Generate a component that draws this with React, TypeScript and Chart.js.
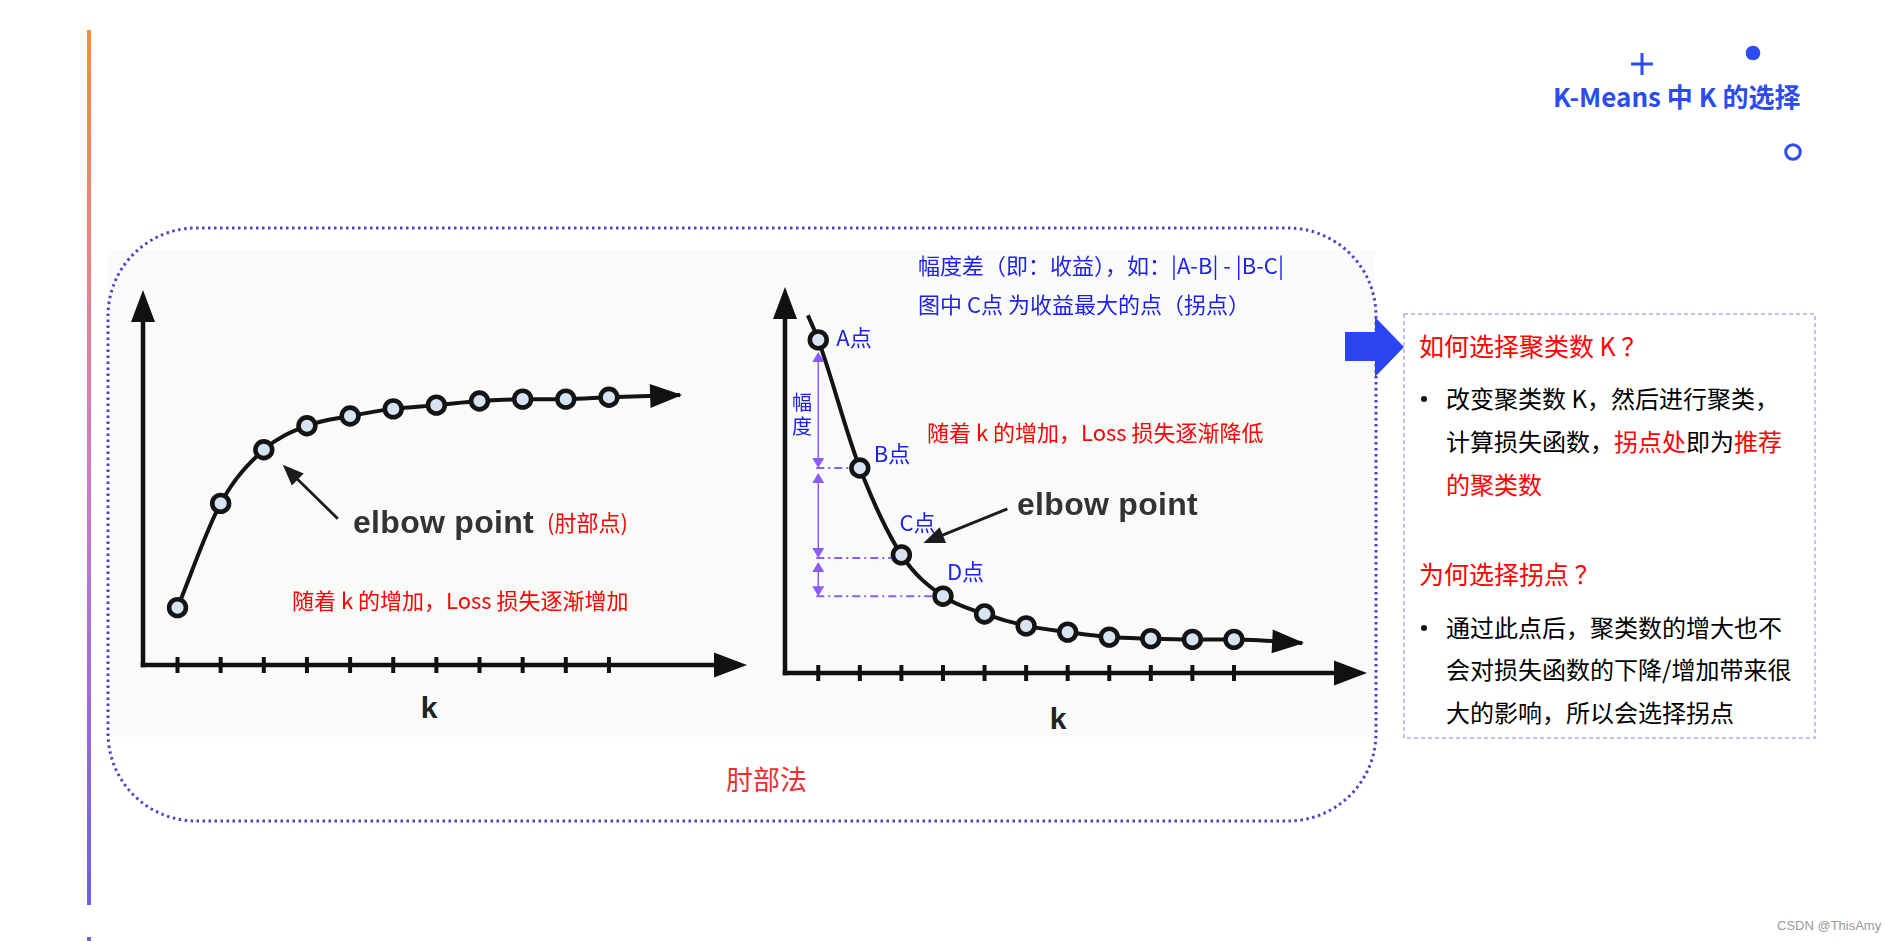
import React, { useEffect, useRef } from "react";
import { Chart, registerables } from "chart.js";

Chart.register(...registerables);

// ---------- data ----------
const kValues = [1, 2, 3, 4, 5, 6, 7, 8, 9, 10, 11];
const lossIncreasing = [15.3, 43.1, 57.4, 63.8, 66.4, 68.3, 69.3, 70.4, 70.9, 70.9, 71.4];
const lossDecreasing = [86.3, 53.1, 30.6, 19.9, 15.3, 12.2, 10.6, 9.3, 8.9, 8.7, 8.7];
const increasingTail = { k: 12.65, loss: 72.0 };
const decreasingHead = { k: 0.75, loss: 92.7 };
const decreasingTail = { k: 12.64, loss: 7.8 };
const pointNames = ["A点", "B点", "C点", "D点"];
const axisLabel = "k";

const CJK = '"Noto Sans CJK SC", "Noto Sans", sans-serif';
const LATIN = '"Liberation Sans", Arial, sans-serif';
const BLUE = "#2020ee";
const RED = "#ff0000";
const PURPLE = "#8b5cf6";

type Vec = [number, number];

function arrowHead(ctx: CanvasRenderingContext2D, tx: number, ty: number, ux: number, uy: number, len: number, half: number) {
  const bx = tx - ux * len;
  const by = ty - uy * len;
  ctx.beginPath();
  ctx.moveTo(tx, ty);
  ctx.lineTo(bx - uy * half, by + ux * half);
  ctx.lineTo(bx + uy * half, by - ux * half);
  ctx.closePath();
  ctx.fill();
}

interface DecorCfg {
  offset: number;
  elbow: { index: number; tip: Vec; tail: Vec };
  labels?: Vec[];
  span?: boolean;
}

function makeDecor(cfg: DecorCfg) {
  return {
    id: "decor",
    beforeDatasetsDraw(chart: any) {
      const { ctx, chartArea: a, scales } = chart;
      const x = scales.x;
      ctx.save();
      ctx.strokeStyle = "#111";
      ctx.fillStyle = "#111";
      ctx.lineWidth = 4.5;
      ctx.lineCap = "butt";
      // y axis
      ctx.beginPath();
      ctx.moveTo(a.left, a.bottom + 2.25);
      ctx.lineTo(a.left, a.top + 28);
      ctx.stroke();
      arrowHead(ctx, a.left, a.top, 0, -1, 32, 12);
      // x axis
      ctx.beginPath();
      ctx.moveTo(a.left - 2.25, a.bottom);
      ctx.lineTo(a.right - 28, a.bottom);
      ctx.stroke();
      arrowHead(ctx, a.right, a.bottom, 1, 0, 33, 12.5);
      // ticks
      ctx.lineWidth = 4;
      for (const k of kValues) {
        const px = x.getPixelForValue(k);
        ctx.beginPath();
        ctx.moveTo(px, a.bottom - 8);
        ctx.lineTo(px, a.bottom + 8);
        ctx.stroke();
      }
      ctx.restore();
    },
    afterDatasetsDraw(chart: any) {
      const { ctx } = chart;
      const pts = chart.getDatasetMeta(0).data;
      const n = pts.length;
      ctx.save();
      // arrow at end of the curve
      const last = pts[n - 1];
      const prev = pts[n - 2];
      let ux = last.x - prev.x;
      let uy = last.y - prev.y;
      let d = Math.hypot(ux, uy);
      ux /= d;
      uy /= d;
      ctx.fillStyle = "#111";
      arrowHead(ctx, last.x + ux * 2, last.y + uy * 2, ux, uy, 32, 12);

      // elbow annotation arrow
      const P = pts[cfg.offset + cfg.elbow.index];
      const tipX = P.x + cfg.elbow.tip[0];
      const tipY = P.y + cfg.elbow.tip[1];
      const tailX = P.x + cfg.elbow.tail[0];
      const tailY = P.y + cfg.elbow.tail[1];
      let vx = tipX - tailX;
      let vy = tipY - tailY;
      d = Math.hypot(vx, vy);
      vx /= d;
      vy /= d;
      ctx.strokeStyle = "#1c1c1c";
      ctx.fillStyle = "#1c1c1c";
      ctx.lineWidth = 2.8;
      ctx.beginPath();
      ctx.moveTo(tailX, tailY);
      ctx.lineTo(tipX - vx * 16, tipY - vy * 16);
      ctx.stroke();
      arrowHead(ctx, tipX, tipY, vx, vy, 21, 8.5);

      // amplitude spans (A-B, B-C, C-D)
      if (cfg.span) {
        const A = pts[cfg.offset + 0];
        const B = pts[cfg.offset + 1];
        const C = pts[cfg.offset + 2];
        const D = pts[cfg.offset + 3];
        const xA = A.x;
        ctx.strokeStyle = PURPLE;
        ctx.fillStyle = PURPLE;
        const segs: [number, number][] = [
          [A.y + 12, B.y],
          [B.y + 5, C.y + 3],
          [C.y + 7, D.y],
        ];
        for (const [y0, y1] of segs) {
          ctx.lineWidth = 1.5;
          ctx.setLineDash([]);
          ctx.beginPath();
          ctx.moveTo(xA, y0 + 4);
          ctx.lineTo(xA, y1 - 4);
          ctx.stroke();
          arrowHead(ctx, xA, y0, 0, -1, 10, 6);
          arrowHead(ctx, xA, y1, 0, 1, 10, 6);
        }
        ctx.lineWidth = 2;
        ctx.setLineDash([8, 4, 2, 4]);
        for (const [P2, dy] of [[B, 0], [C, 3], [D, 0]] as [any, number][]) {
          ctx.beginPath();
          ctx.moveTo(xA - 2, P2.y + dy);
          ctx.lineTo(P2.x - 10, P2.y + dy);
          ctx.stroke();
        }
        ctx.setLineDash([]);
      }

      // point name labels
      if (cfg.labels) {
        ctx.fillStyle = BLUE;
        ctx.font = `22px ${CJK}`;
        ctx.textBaseline = "middle";
        ctx.textAlign = "left";
        cfg.labels.forEach((off, i) => {
          const p = pts[cfg.offset + i];
          ctx.fillText(pointNames[i], p.x + off[0], p.y + off[1]);
        });
      }
      ctx.restore();
    },
  };
}

function buildConfig(points: { x: number; y: number }[], radii: number[], decor: any, xMax: number) {
  return {
    type: "line",
    data: {
      datasets: [
        {
          data: points,
          borderColor: "#141414",
          borderWidth: 4,
          pointRadius: radii,
          pointHoverRadius: radii,
          pointBackgroundColor: "#d6e4f2",
          pointBorderColor: "#141414",
          pointBorderWidth: 4.6,
          cubicInterpolationMode: "monotone",
          fill: false,
          clip: false,
        },
      ],
    },
    options: {
      animation: false,
      responsive: false,
      maintainAspectRatio: false,
      events: [],
      layout: { padding: { left: 20, top: 10, right: 10, bottom: 20 } },
      scales: {
        x: { type: "linear", min: 0.2, max: xMax, display: false },
        y: { type: "linear", min: 0, max: 100, display: false },
      },
      plugins: { legend: { display: false }, tooltip: { enabled: false } },
    },
    plugins: [decor],
  } as any;
}

function Txt(props: {
  x: number;
  cy: number;
  size: number;
  color?: string;
  bold?: boolean;
  family?: string;
  factor?: number;
  spacing?: number;
  children: React.ReactNode;
}) {
  const f = props.factor ?? 0.55;
  return (
    <div
      style={{
        position: "absolute",
        left: props.x,
        top: props.cy - props.size * f,
        fontSize: props.size,
        lineHeight: 1,
        color: props.color ?? "#000",
        fontWeight: props.bold ? 700 : 400,
        fontFamily: props.family ?? CJK,
        whiteSpace: "nowrap",
        letterSpacing: props.spacing ?? 0,
      }}
    >
      {props.children}
    </div>
  );
}

function Bullet(props: { cy: number }) {
  return (
    <div
      style={{
        position: "absolute",
        left: 1421,
        top: props.cy - 3,
        width: 6,
        height: 6,
        borderRadius: 3,
        background: "#111",
      }}
    />
  );
}

export default function App() {
  const leftRef = useRef<HTMLCanvasElement>(null);
  const rightRef = useRef<HTMLCanvasElement>(null);

  useEffect(() => {
    const leftPts = kValues.map((k, i) => ({ x: k, y: lossIncreasing[i] }));
    leftPts.push({ x: increasingTail.k, y: increasingTail.loss });
    const leftRadii = kValues.map(() => 8.4).concat([0]);
    const c1 = new Chart(
      leftRef.current!,
      buildConfig(
        leftPts,
        leftRadii,
        makeDecor({ offset: 0, elbow: { index: 2, tip: [19, 15], tail: [74, 69] } }),
        14.2
      )
    );

    const rightPts = [{ x: decreasingHead.k, y: decreasingHead.loss }].concat(
      kValues.map((k, i) => ({ x: k, y: lossDecreasing[i] }))
    );
    rightPts.push({ x: decreasingTail.k, y: decreasingTail.loss });
    const rightRadii = [0].concat(kValues.map(() => 8.4)).concat([0]);
    const c2 = new Chart(
      rightRef.current!,
      buildConfig(
        rightPts,
        rightRadii,
        makeDecor({
          offset: 1,
          elbow: { index: 2, tip: [22, -12], tail: [106, -46] },
          labels: [
            [18, -2],
            [14, -14],
            [-2, -32],
            [4, -25],
          ],
          span: true,
        }),
        14.2
      )
    );
    return () => {
      c1.destroy();
      c2.destroy();
    };
  }, []);

  const lines = [399, 442, 485, 628, 670, 713];

  return (
    <div
      style={{
        position: "absolute",
        left: 0,
        top: 0,
        width: 1885,
        height: 941,
        background: "#fff",
        overflow: "hidden",
      }}
    >
      <svg width={1885} height={941} style={{ position: "absolute", left: 0, top: 0 }}>
        <defs>
          <linearGradient id="bar" x1="0" y1="0" x2="0" y2="1">
            <stop offset="0" stopColor="#ff8a3d" />
            <stop offset="0.5" stopColor="#d27cc4" />
            <stop offset="1" stopColor="#6b5cf5" />
          </linearGradient>
        </defs>
        <rect x={87} y={30} width={4} height={875} fill="url(#bar)" />
        <rect x={87} y={937} width={4} height={4} fill="#7060f0" />
        <rect x={108} y={250} width={1267} height={487} fill="#f8fbf8" />
        <rect
          x={108}
          y={228}
          width={1268}
          height={593}
          rx={88}
          ry={88}
          fill="none"
          stroke="#5b3cc8"
          strokeWidth={3}
          strokeDasharray="2.5 3.5"
        />
        <rect
          x={1404}
          y={314}
          width={411}
          height={424}
          fill="none"
          stroke="#b4aaf0"
          strokeWidth={1.5}
          strokeDasharray="4 3"
        />
        <polygon
          points="1345,332 1375,332 1375,317 1404,347 1375,377 1375,361 1345,361"
          fill="#2b45f3"
        />
        <line x1={1631} y1={64} x2={1653} y2={64} stroke="#2c4bf0" strokeWidth={3} />
        <line x1={1642} y1={53} x2={1642} y2={75} stroke="#2c4bf0" strokeWidth={3} />
        <circle cx={1753} cy={53} r={7.3} fill="#2c4bf0" />
        <circle cx={1793} cy={152} r={7.3} fill="none" stroke="#2c4bf0" strokeWidth={3} />
      </svg>

      <canvas
        ref={leftRef}
        width={637}
        height={408}
        style={{ position: "absolute", left: 123, top: 277, width: 637, height: 408 }}
      />
      <canvas
        ref={rightRef}
        width={612}
        height={416}
        style={{ position: "absolute", left: 765, top: 277, width: 612, height: 416 }}
      />

      {/* title */}
      <Txt x={1553} cy={97} size={26} color="#2c4bf0" bold>
        K-Means 中 K 的选择
      </Txt>

      {/* left chart texts */}
      <Txt x={353} cy={522} size={32} color="#333" bold family={LATIN} factor={0.5} spacing={0.3}>
        elbow point
      </Txt>
      <Txt x={547} cy={522} size={22} color={RED}>
        (肘部点)
      </Txt>
      <Txt x={292} cy={600} size={22} color={RED}>
        随着 k 的增加，Loss 损失逐渐增加
      </Txt>
      <div
        style={{
          position: "absolute",
          left: 409,
          width: 40,
          textAlign: "center",
          top: 708 - 15,
          fontSize: 30,
          lineHeight: "30px",
          fontWeight: 700,
          fontFamily: LATIN,
          color: "#222",
        }}
      >
        {axisLabel}
      </div>

      {/* right chart texts */}
      <Txt x={918} cy={265} size={22} color={BLUE}>
        幅度差（即：收益），如：|A-B| - |B-C|
      </Txt>
      <Txt x={918} cy={304} size={22} color={BLUE}>
        图中 C点 为收益最大的点（拐点）
      </Txt>
      <Txt x={792} cy={403} size={20} color={BLUE}>
        幅
      </Txt>
      <Txt x={792} cy={427} size={20} color={BLUE}>
        度
      </Txt>
      <Txt x={927} cy={432} size={22} color={RED}>
        随着 k 的增加，Loss 损失逐渐降低
      </Txt>
      <Txt x={1017} cy={504} size={32} color="#333" bold family={LATIN} factor={0.5} spacing={0.3}>
        elbow point
      </Txt>
      <div
        style={{
          position: "absolute",
          left: 1038,
          width: 40,
          textAlign: "center",
          top: 719 - 15,
          fontSize: 30,
          lineHeight: "30px",
          fontWeight: 700,
          fontFamily: LATIN,
          color: "#222",
        }}
      >
        {axisLabel}
      </div>

      <Txt x={726} cy={780} size={27} color="#e83030">
        肘部法
      </Txt>

      {/* right panel */}
      <Txt x={1419} cy={347} size={25} color={RED}>
        如何选择聚类数 K ？
      </Txt>
      <Bullet cy={lines[0]} />
      <Txt x={1446} cy={lines[0]} size={24}>
        改变聚类数 K，然后进行聚类，
      </Txt>
      <Txt x={1446} cy={lines[1]} size={24}>
        计算损失函数，<span style={{ color: RED }}>拐点处</span>即为<span style={{ color: RED }}>推荐</span>
      </Txt>
      <Txt x={1446} cy={lines[2]} size={24} color={RED}>
        的聚类数
      </Txt>
      <Txt x={1419} cy={575} size={25} color={RED}>
        为何选择拐点 ？
      </Txt>
      <Bullet cy={lines[3]} />
      <Txt x={1446} cy={lines[3]} size={24}>
        通过此点后，聚类数的增大也不
      </Txt>
      <Txt x={1446} cy={lines[4]} size={24}>
        会对损失函数的下降/增加带来很
      </Txt>
      <Txt x={1446} cy={lines[5]} size={24}>
        大的影响，所以会选择拐点
      </Txt>

      <Txt x={1777} cy={926} size={13} color="#999" family={LATIN}>
        CSDN @ThisAmy
      </Txt>
    </div>
  );
}
